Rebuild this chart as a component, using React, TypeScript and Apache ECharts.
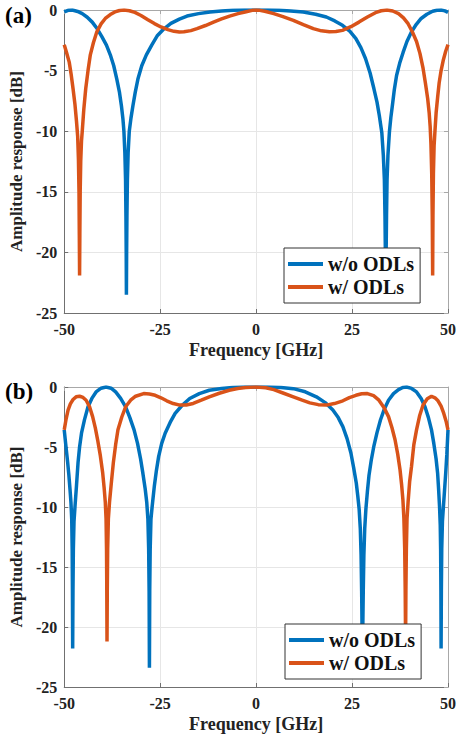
import React, { useEffect, useRef } from "react";
import * as echarts from "echarts";

const xTicks = { min: -50, max: 50, interval: 25 };
const yTicks = { min: -25, max: 0, interval: 5 };
const seriesNames = ["w/o ODLs", "w/ ODLs"];
const panelLabels = ["(a)", "(b)"];
const xTitle = "Frequency [GHz]";
const yTitle = "Amplitude response [dB]";

// Panel (a), w/o ODLs
const aBlue: [number, number][] = [
  [-50, -0.16], [-49, -0.03], [-47.9, 0], [-46.5, -0.12], [-45.3, -0.3], [-44, -0.6], [-42.7, -1.0],
  [-41.4, -1.55], [-40.2, -2.2], [-39, -2.9], [-38, -3.7], [-37.1, -4.6], [-36.3, -5.7], [-35.6, -6.8],
  [-35.1, -7.9], [-34.7, -9.0], [-34.45, -10], [-34.2, -11.8], [-34.02, -14], [-33.92, -17], [-33.85, -20],
  [-33.8, -23.5], [-33.74, -20], [-33.66, -17], [-33.54, -14], [-33.35, -11.8], [-33.05, -10], [-32.6, -8.9],
  [-32.1, -7.9], [-31.5, -6.8], [-30.8, -5.7], [-29.8, -4.6], [-28.6, -3.7], [-27.2, -2.9], [-25.7, -2.1],
  [-24, -1.55], [-22.2, -1.1], [-20, -0.75], [-18, -0.5], [-15, -0.3], [-12, -0.16], [-9, -0.08],
  [-6, -0.03], [-3, -0.01], [0, 0],
  [3, -0.01], [6, -0.03], [9, -0.08], [12.3, -0.16], [15.5, -0.35], [18.3, -0.58], [20.5, -0.9],
  [22.5, -1.26], [24.4, -1.75], [26, -2.36], [27.3, -3.1], [28.5, -4.0], [29.7, -5.2], [30.7, -6.5],
  [31.5, -7.6], [32.1, -8.7], [32.75, -10.1], [33.15, -12], [33.42, -14], [33.58, -17], [33.68, -20],
  [33.8, -23.5], [33.88, -20], [33.98, -17], [34.12, -14], [34.35, -12], [34.75, -10], [35.1, -8.9],
  [35.5, -7.9], [36.0, -6.6], [36.6, -5.4], [37.4, -4.4], [38.3, -3.5], [39.3, -2.6], [40.5, -1.8],
  [41.7, -1.2], [43, -0.7], [44.5, -0.35], [46, -0.1], [47.1, -0.02], [48.2, 0], [49.2, -0.07], [50, -0.2],
];

// Panel (a), w/ ODLs
const aOrange: [number, number][] = [
  [-50, -2.86], [-49.4, -3.5], [-48.7, -4.3], [-48.2, -5.3], [-47.7, -6.5], [-47.2, -7.8], [-46.8, -9.2],
  [-46.5, -10.4], [-46.3, -12.3], [-46.15, -15], [-46.07, -18.5], [-46.0, -21.9], [-45.93, -18.5],
  [-45.84, -15], [-45.7, -12.5], [-45.5, -10.8], [-45.3, -10], [-44.9, -8.2], [-44.4, -6.5], [-43.8, -5.0],
  [-43.2, -3.7], [-42.4, -2.7], [-41.5, -1.8], [-40.4, -1.15], [-39.3, -0.7], [-38, -0.38], [-36.8, -0.16],
  [-35.6, -0.04], [-34.4, 0], [-33, -0.06], [-31.6, -0.2], [-30, -0.45], [-28.2, -0.8], [-26.5, -1.12],
  [-24.8, -1.4], [-23, -1.62], [-21.4, -1.76], [-20, -1.82], [-18.8, -1.8], [-17, -1.7], [-15.4, -1.54],
  [-13.2, -1.28], [-11.1, -1.0], [-9, -0.74], [-6.9, -0.5], [-4.7, -0.3], [-2.6, -0.14], [-1, -0.03], [0, 0],
  [1, -0.03], [2.5, -0.12], [4.6, -0.3], [7, -0.55], [9.7, -0.85], [12.3, -1.2], [14.9, -1.54], [17, -1.72],
  [19.1, -1.8], [20.8, -1.78], [22.5, -1.68], [24.7, -1.38], [26.8, -1.0], [29, -0.58], [31.1, -0.22],
  [32.6, -0.06], [34.1, 0], [35.6, -0.08], [37.1, -0.3], [38.4, -0.65], [39.6, -1.13], [40.7, -1.8],
  [41.8, -2.6], [42.7, -3.6], [43.5, -4.8], [44.1, -6.0], [44.7, -7.3], [45.1, -8.5], [45.35, -9.6],
  [45.55, -11], [45.76, -13.5], [45.9, -17], [46.0, -21.9], [46.08, -17], [46.2, -13.5], [46.38, -11.2],
  [46.6, -10], [46.9, -8.5], [47.3, -7.2], [47.7, -6.0], [48.2, -5.0], [48.8, -4.1], [49.4, -3.4], [50, -2.86],
];

// Panel (b), w/o ODLs
const bBlue: [number, number][] = [
  [-50, -3.57], [-49.6, -4.8], [-49.1, -6.3], [-48.8, -7.3], [-48.5, -8.5], [-48.25, -9.6], [-48.05, -11],
  [-47.93, -13.5], [-47.86, -17], [-47.8, -21.8], [-47.72, -17], [-47.62, -13.5], [-47.45, -11.2],
  [-47.2, -10], [-46.8, -8.2], [-46.4, -6.3], [-46, -5], [-45.5, -3.85], [-44.7, -2.7], [-43.8, -1.65],
  [-42.8, -0.95], [-41.7, -0.41], [-40.4, -0.1], [-39.1, 0], [-37.8, -0.1], [-36.6, -0.41], [-35.3, -0.95],
  [-34, -1.65], [-32.9, -2.55], [-31.8, -3.57], [-30.9, -4.7], [-30.1, -6.0], [-29.5, -7.2], [-28.9, -8.5],
  [-28.5, -9.6], [-28.2, -11], [-28.0, -13.5], [-27.88, -17], [-27.8, -23.4], [-27.72, -17], [-27.6, -13.5],
  [-27.4, -11], [-27.1, -10], [-26.5, -8.2], [-26, -7], [-25.4, -5.8], [-24.6, -4.7], [-23.7, -3.85],
  [-22.4, -2.95], [-21.1, -2.2], [-19.2, -1.5], [-17.3, -0.96], [-14.8, -0.55], [-12.2, -0.27], [-9, -0.12],
  [-6.2, -0.05], [-3, -0.01], [0, 0],
  [3, -0.01], [6.5, -0.05], [9.7, -0.14], [12.8, -0.4], [15.7, -0.82], [18, -1.3], [20, -1.92], [21.4, -2.55],
  [22.6, -3.3], [23.7, -4.3], [24.7, -5.5], [25.4, -6.7], [26.1, -8.0], [26.5, -9.1], [26.85, -10.2],
  [27.15, -11.8], [27.35, -14], [27.5, -17], [27.6, -20], [27.7, -23.4], [27.8, -20], [27.92, -17],
  [28.08, -14], [28.3, -11.8], [28.6, -10.2], [29.0, -8.7], [29.4, -7.4], [30.0, -6.1], [30.7, -4.9],
  [31.5, -3.8], [32.4, -2.75], [33.4, -1.85], [34.5, -1.1], [35.8, -0.55], [37.1, -0.22], [38.2, -0.04],
  [39.2, 0], [40.5, -0.12], [41.8, -0.41], [43, -0.95], [44, -1.65], [44.9, -2.55], [45.7, -3.57],
  [46.3, -4.7], [46.9, -6.0], [47.3, -7.2], [47.55, -8.5], [47.8, -10], [47.98, -11.5], [48.08, -13.5],
  [48.15, -17], [48.2, -21.8], [48.27, -17], [48.37, -13.5], [48.55, -11.2], [48.8, -10], [49.1, -8.6],
  [49.4, -7.2], [49.7, -5.6], [50, -3.57],
];

// Panel (b), w/ ODLs
const bOrange: [number, number][] = [
  [-50, -3.57], [-49.5, -2.65], [-49.0, -1.92], [-48.4, -1.4], [-47.7, -1.04], [-46.9, -0.82], [-46.0, -0.77],
  [-45.1, -0.87], [-44.3, -1.1], [-43.4, -1.65], [-42.6, -2.47], [-41.9, -3.4], [-41.3, -4.4], [-40.6, -5.7],
  [-40.0, -7.1], [-39.6, -8.4], [-39.3, -9.6], [-39.1, -11], [-38.98, -13.5], [-38.91, -17], [-38.85, -21.2],
  [-38.78, -17], [-38.68, -13.5], [-38.5, -11], [-38.2, -9.6], [-37.7, -7.9], [-37.2, -6.3], [-36.6, -4.8],
  [-36, -3.57], [-35, -2.5], [-34, -1.65], [-32.7, -1.1], [-31.4, -0.77], [-29.3, -0.55], [-27.8, -0.58],
  [-26.3, -0.69], [-24.8, -0.9], [-23.3, -1.15], [-21.6, -1.38], [-19.9, -1.51], [-18.2, -1.5], [-16.4, -1.37],
  [-14.3, -1.1], [-12.2, -0.82], [-9.6, -0.52], [-7.0, -0.27], [-4.8, -0.12], [-2.7, -0.05], [0, 0],
  [2.5, -0.06], [4.6, -0.22], [7, -0.5], [9.7, -0.82], [12, -1.1], [14, -1.32], [16.2, -1.47], [18.3, -1.51],
  [20.4, -1.38], [22.6, -1.15], [24.3, -0.88], [26, -0.69], [27.5, -0.56], [29, -0.55], [30.6, -0.72],
  [32, -1.1], [33.3, -1.7], [34.5, -2.47], [35.4, -3.4], [36.2, -4.4], [36.9, -5.6], [37.5, -6.9],
  [37.9, -8.1], [38.25, -9.4], [38.5, -10.9], [38.72, -13.5], [38.85, -17], [38.95, -21.2], [39.03, -17],
  [39.15, -13.5], [39.32, -11], [39.6, -9.6], [40.0, -7.9], [40.5, -6.6], [41.1, -4.8], [41.8, -3.57],
  [42.6, -2.4], [43.5, -1.5], [44.6, -0.98], [45.7, -0.77], [46.6, -0.9], [47.4, -1.15], [48.2, -1.6],
  [48.9, -2.2], [49.5, -2.85], [50, -3.57],
];

const BLUE = "#0072BD";
const ORANGE = "#D95319";
const FONT = "'Liberation Serif', 'Times New Roman', serif";

export default function App() {
  const ref = useRef<HTMLDivElement>(null);

  useEffect(() => {
    if (!ref.current) return;
    const chart = echarts.init(ref.current, null, { renderer: "svg" });

    const grids = [
      { left: 62, top: 10, width: 390, height: 303 },
      { left: 63, top: 387, width: 390, height: 302 },
    ];

    const mainX = (gi: number) => ({
      type: "value",
      gridIndex: gi,
      position: "bottom",
      ...xTicks,
      name: xTitle,
      nameLocation: "middle",
      nameGap: 28,
      nameTextStyle: { fontFamily: FONT, fontWeight: "bold", fontSize: 18, color: "#222" },
      axisLine: { show: true, onZero: false, lineStyle: { color: "#707070", width: 1 } },
      axisTick: { show: true, inside: true, length: 4, lineStyle: { color: "#707070" } },
      axisLabel: { show: true, margin: 8, fontFamily: FONT, fontWeight: "bold", fontSize: 16, color: "#222" },
      splitLine: { show: true, lineStyle: { color: "#e6e6e6", width: 1 } },
    });
    const topX = (gi: number) => ({
      type: "value",
      gridIndex: gi,
      position: "top",
      ...xTicks,
      axisLine: { show: true, onZero: false, lineStyle: { color: "#a8a8a8", width: 1 } },
      axisTick: { show: true, inside: true, length: 4, lineStyle: { color: "#a8a8a8" } },
      axisLabel: { show: false },
      splitLine: { show: false },
    });
    const mainY = (gi: number) => ({
      type: "value",
      gridIndex: gi,
      position: "left",
      ...yTicks,
      name: yTitle,
      nameLocation: "middle",
      nameGap: 34,
      nameTextStyle: { fontFamily: FONT, fontWeight: "bold", fontSize: 17, color: "#222" },
      axisLine: { show: true, onZero: false, lineStyle: { color: "#707070", width: 1 } },
      axisTick: { show: true, inside: true, length: 4, lineStyle: { color: "#707070" } },
      axisLabel: { show: true, margin: 7, fontFamily: FONT, fontWeight: "bold", fontSize: 16, color: "#222" },
      splitLine: { show: true, lineStyle: { color: "#e6e6e6", width: 1 } },
    });
    const rightY = (gi: number) => ({
      type: "value",
      gridIndex: gi,
      position: "right",
      ...yTicks,
      axisLine: { show: true, onZero: false, lineStyle: { color: "#a8a8a8", width: 1 } },
      axisTick: { show: true, inside: true, length: 4, lineStyle: { color: "#a8a8a8" } },
      axisLabel: { show: false },
      splitLine: { show: false },
    });

    const line = (name: string, data: [number, number][], color: string, axis: number) => ({
      type: "line",
      name,
      data,
      xAxisIndex: axis,
      yAxisIndex: axis,
      showSymbol: false,
      symbol: "none",
      smooth: false,
      clip: true,
      lineStyle: { color, width: 3.5 },
      itemStyle: { color },
      emphasis: { disabled: true },
    });

    const legend = (left: number, top: number) => ({
      left,
      top,
      orient: "vertical",
      data: seriesNames,
      icon: "rect",
      itemWidth: 35,
      itemHeight: 4,
      itemGap: 1,
      padding: [5, 6, 5, 4],
      backgroundColor: "#ffffff",
      borderColor: "#333333",
      borderWidth: 1,
      selectedMode: false,
      textStyle: { fontFamily: FONT, fontWeight: "bold", fontSize: 20, color: "#111", lineHeight: 22 },
    });

    const option: any = {
      animation: false,
      backgroundColor: "#ffffff",
      grid: grids,
      xAxis: [mainX(0), topX(0), mainX(1), topX(1)],
      yAxis: [mainY(0), rightY(0), mainY(1), rightY(1)],
      legend: [legend(284, 248), legend(285, 624)],
      series: [
        line(seriesNames[0], aBlue, BLUE, 0),
        line(seriesNames[1], aOrange, ORANGE, 0),
        line(seriesNames[0], bBlue, BLUE, 2),
        line(seriesNames[1], bOrange, ORANGE, 2),
      ],
      graphic: [
        {
          type: "text",
          left: 5,
          top: 4,
          style: { text: panelLabels[0], fontFamily: FONT, fontWeight: "bold", fontSize: 23, fill: "#000" },
        },
        {
          type: "text",
          left: 5,
          top: 380,
          style: { text: panelLabels[1], fontFamily: FONT, fontWeight: "bold", fontSize: 23, fill: "#000" },
        },
      ],
    };

    chart.setOption(option);
    return () => chart.dispose();
  }, []);

  return (
    <div
      ref={ref}
      style={{ position: "absolute", left: 0, top: 0, width: 459, height: 734, background: "#fff" }}
    />
  );
}
